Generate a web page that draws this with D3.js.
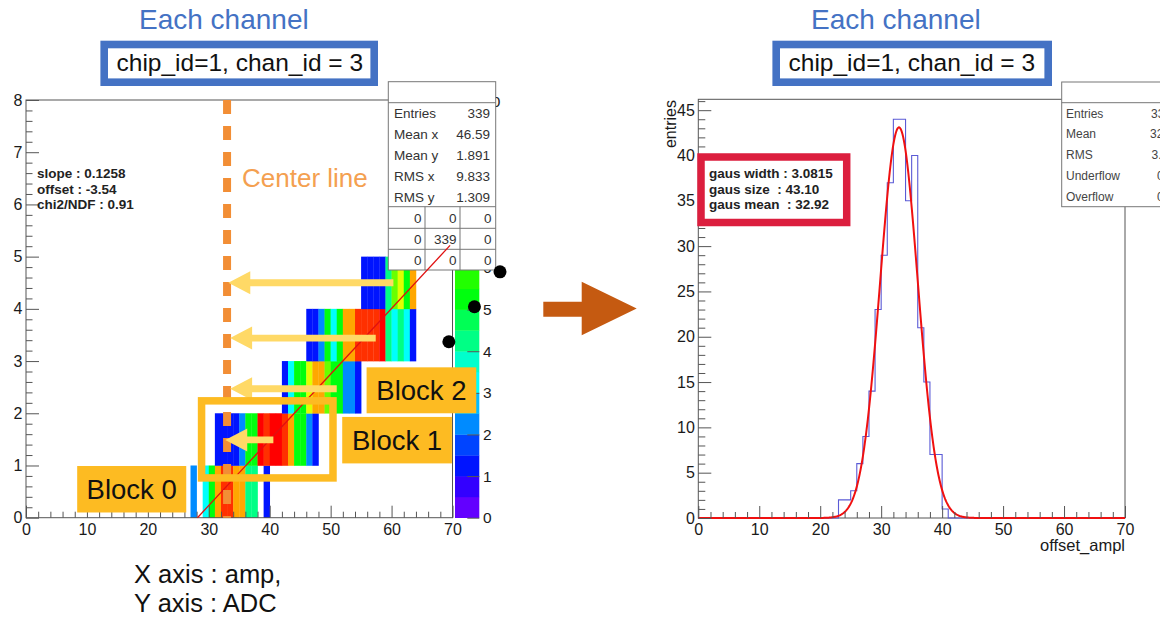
<!DOCTYPE html>
<html>
<head>
<meta charset="utf-8">
<script src="https://cdn.jsdelivr.net/npm/d3@7"></script>
<style>
  html, body { margin: 0; padding: 0; background: #fff; }
  svg { display: block; font-family: "Liberation Sans", Arial, Helvetica, sans-serif; }
  .pre { white-space: pre; }
</style>
</head>
<body>
<svg id="chart" width="1160" height="624"></svg>
<script>
// ---------- ADC vs amp map for chip 1, channel 3 ----------
const adcRows     = [0, 1, 2, 3, 4];          // lower edge of each ADC bin
const ampFirstBin = [27, 31, 42, 46, 55];     // first amp bin filled in each ADC row
const cellCounts = [
  [2, 0, 3, 5, 8, 9, 9, 8, 8, 4, 4, 0, 1],
  [1, 1, 1, 1, 2, 5, 5, 10, 9, 10, 10, 9, 8, 5, 5, 2, 1],
  [1, 3, 5, 5, 7, 8, 8, 6, 5, 5, 2, 2, 1],
  [1, 1, 2, 5, 3, 5, 8, 8, 9, 9, 9, 9, 10, 4, 3, 4, 3, 1],
  [1, 1, 1, 1, 4, 6, 7, 5, 8]
];
const profilePoints = [[69.4, 3.37], [73.6, 4.04], [77.8, 4.71]];
const fitSlope = 0.1258, fitOffset = -3.54, fitChi2 = 0.91, fitRangeMax = 69.6;
const mapXTicks = [0, 10, 20, 30, 40, 50, 60, 70];
const mapYTicks = [0, 1, 2, 3, 4, 5, 6, 7, 8];
const zTicks    = [0, 1, 2, 3, 4, 5, 6, 7, 8, 9, 10];
const mapStatLabels = ["Entries", "Mean x", "Mean y", "RMS x", "RMS y"];
const mapStatValues = ["339", "46.59", "1.891", "9.833", "1.309"];
const mapOverflowGrid = [[0, 0, 0], [0, 339, 0], [0, 0, 0]];
const centerAmp = 33;

// ---------- offset_ampl distribution ----------
const offsetFirstBin = 23;
const offsetCounts = [2, 2, 3, 6, 9, 14, 23, 29, 37, 44, 44, 35, 40, 21, 15, 7, 7, 1];
const gausWidth = 3.0815, gausSize = 43.10, gausMean = 32.92;
const offXTicks = [0, 10, 20, 30, 40, 50, 60, 70];
const offYTicks = [0, 5, 10, 15, 20, 25, 30, 35, 40, 45];
const offStatLabels = ["Entries", "Mean", "RMS", "Underflow", "Overflow"];
const offStatValues = ["339", "32.92", "3.117", "0", "0"];

// ---------- shared style ----------
const FONT = '"Liberation Sans", Arial, Helvetica, sans-serif';
const frameColor = "#555";
const gold = "#FDBB22";
const paleGold = "#FFD966";
const titleBlue = "#4472C4";

const svg = d3.select("#chart");

// rainbow palette: 50 hues from violet to red, 20 contour levels
function levelColor(k) {
  const i = Math.floor((k + 0.99) * 50 / 20);
  const hue = 280 - (i + 1) * 5.6;
  return d3.hsl(hue, 1, 0.5).toString();
}
const zMax = 10;
function countColor(c) {
  const k = Math.min(19, Math.floor(c / (zMax / 20)));
  return levelColor(k);
}

function addAxis(axisFn, scale, values, len, pad, fmt, transform, fs) {
  const g = svg.append("g")
    .attr("transform", transform)
    .call(axisFn(scale).tickValues(values).tickSize(-len).tickPadding(pad).tickFormat(fmt));
  g.attr("font-family", FONT).attr("font-size", fs || 16);
  g.select(".domain").remove();
  g.selectAll(".tick line").attr("stroke", frameColor);
  g.selectAll(".tick text").attr("fill", "#1a1a1a");
  return g;
}
const range = (a, b, s) => d3.range(a, b + s / 2, s);

// ---------- titles ----------
function titleBlock(xTitle, boxX, boxW, textX) {
  svg.append("text").attr("x", xTitle).attr("y", 29.3)
    .attr("font-size", 28).attr("fill", titleBlue).text("Each channel");
  svg.append("rect").attr("x", boxX).attr("y", 44.5).attr("width", boxW).attr("height", 37.7)
    .attr("fill", "#fff").attr("stroke", titleBlue).attr("stroke-width", 7.6);
  svg.append("text").attr("x", textX).attr("y", 71).attr("font-size", 24.5)
    .attr("fill", "#111").text("chip_id=1, chan_id = 3");
}
titleBlock(139, 104.2, 270, 116.5);
titleBlock(811, 776.2, 272, 788.5);

// =================== left panel: 2D map ===================
const x = d3.scaleLinear().domain([0, 70]).range([26, 452.5]);
const y = d3.scaleLinear().domain([0, 8]).range([517.7, 100]);
const z = d3.scaleLinear().domain([0, 10]).range([517.7, 101.5]);

// cells
const cells = [];
adcRows.forEach((row, r) => {
  cellCounts[r].forEach((c, j) => {
    if (c > 0) cells.push({ amp: ampFirstBin[r] + j, adc: row, count: c });
  });
});
svg.append("g").selectAll("rect").data(cells).join("rect")
  .attr("x", d => x(d.amp))
  .attr("y", d => y(d.adc + 1))
  .attr("width", d => x(d.amp + 1) - x(d.amp) + 0.3)
  .attr("height", d => y(d.adc) - y(d.adc + 1) + 0.3)
  .attr("fill", d => countColor(d.count));

// frame and axes
svg.append("rect").attr("x", x(0)).attr("y", y(8)).attr("width", x(70) - x(0)).attr("height", y(0) - y(8))
  .attr("fill", "none").attr("stroke", frameColor);
addAxis(d3.axisBottom, x, range(0, 70, 2).filter(v => v % 10), 6, 0, "", `translate(0,${y(0)})`);
addAxis(d3.axisBottom, x, mapXTicks, 12, 5.5, d3.format("d"), `translate(0,${y(0)})`);
addAxis(d3.axisLeft, y, range(0, 8, 0.2).filter(v => Math.abs(v - Math.round(v)) > 1e-6), 6.5, 0, "", `translate(${x(0)},0)`);
addAxis(d3.axisLeft, y, mapYTicks, 13, 3.5, d3.format("d"), `translate(${x(0)},0)`);

// colour bar (its upper labels sit under the statistics box, so they are left blank)
const zBands = d3.range(20);
svg.append("g").selectAll("rect").data(zBands).join("rect")
  .attr("x", 455).attr("width", 24.3)
  .attr("y", k => z((k + 1) * zMax / 20))
  .attr("height", k => z(k * zMax / 20) - z((k + 1) * zMax / 20) + 0.3)
  .attr("fill", k => levelColor(k));
addAxis(d3.axisRight, z, zTicks, 12, 3.8, v => (v >= 7 && v <= 9) ? "" : String(v), `translate(479.3,0)`, 15.5);

// statistics box
const sb = svg.append("g");
sb.append("rect").attr("x", 388.3).attr("y", 81.7).attr("width", 107.4).attr("height", 188.3)
  .attr("fill", "#fff").attr("stroke", "#777");
[102.7, 206.7, 228.3, 249.3].forEach(yy =>
  sb.append("line").attr("x1", 388.3).attr("x2", 495.7).attr("y1", yy).attr("y2", yy).attr("stroke", "#777"));
[425, 460].forEach(xx =>
  sb.append("line").attr("x1", xx).attr("x2", xx).attr("y1", 206.7).attr("y2", 270).attr("stroke", "#777"));
const statRowY = [113.3, 134, 154.5, 176, 196.5];
mapStatLabels.forEach((lab, i) => {
  sb.append("text").attr("x", 394).attr("y", statRowY[i] + 5).attr("font-size", 13.5).attr("fill", "#333").text(lab);
  sb.append("text").attr("x", 490).attr("y", statRowY[i] + 5).attr("font-size", 13.5).attr("fill", "#333")
    .attr("text-anchor", "end").text(mapStatValues[i]);
});
const gridX = [421.5, 456.5, 491.5], gridY = [217.5, 238.5, 259.5];
mapOverflowGrid.forEach((row, r) => row.forEach((v, c) => {
  sb.append("text").attr("x", gridX[c]).attr("y", gridY[r] + 5).attr("font-size", 13.5)
    .attr("fill", "#333").attr("text-anchor", "end").text(v);
}));

// linear fit
const fitLine = d3.line().x(d => x(d[0])).y(d => y(d[1]));
const fitStart = -fitOffset / fitSlope;
svg.append("path")
  .datum([fitStart, fitRangeMax].map(a => [a, fitSlope * a + fitOffset]))
  .attr("d", fitLine).attr("fill", "none").attr("stroke", "#E01010").attr("stroke-width", 1.3);

const fitText = [`slope : ${fitSlope}`, `offset : ${fitOffset}`, `chi2/NDF : ${fitChi2}`];
svg.append("g").selectAll("text").data(fitText).join("text")
  .attr("x", 37).attr("y", (d, i) => 178 + i * 15.6)
  .attr("font-size", 13.5).attr("font-weight", "bold").attr("fill", "#222").text(d => d);

// profile points
svg.append("g").selectAll("circle").data(profilePoints).join("circle")
  .attr("cx", d => x(d[0])).attr("cy", d => y(d[1])).attr("r", 6.5).attr("fill", "#000");

// center line
svg.append("line").attr("x1", x(centerAmp)).attr("x2", x(centerAmp)).attr("y1", y(8)).attr("y2", y(0))
  .attr("stroke", "#F28E35").attr("stroke-width", 8).attr("stroke-dasharray", "14,12");
svg.append("text").attr("x", 242).attr("y", 187).attr("font-size", 26).attr("fill", "#F4A050").text("Center line");

// shift arrows towards the center line
const shiftArrows = [
  { adc: 4.5,  from: 60.3, to: 33.2 },
  { adc: 3.44, from: 57.4, to: 33.5 },
  { adc: 2.47, from: 51.0, to: 33.5 },
  { adc: 1.49, from: 40.6, to: 32.7 }
];
svg.append("g").selectAll("path").data(shiftArrows).join("path")
  .attr("d", d => {
    const tx = x(d.to), fx = x(d.from), cy = y(d.adc), hl = 22, hh = 11.5, sh = 3.4;
    return `M${tx},${cy} L${tx + hl},${cy - hh} L${tx + hl},${cy - sh} L${fx},${cy - sh}` +
           ` L${fx},${cy + sh} L${tx + hl},${cy + sh} L${tx + hl},${cy + hh} Z`;
  })
  .attr("fill", paleGold);

// block outline around the first ADC step
const blockFrame = { a0: 28.2, a1: 51.0, d0: 0.69, d1: 2.31 };
const bw = 7.5;
svg.append("rect")
  .attr("x", x(blockFrame.a0) + bw / 2).attr("y", y(blockFrame.d1) + bw / 2)
  .attr("width", x(blockFrame.a1) - x(blockFrame.a0) - bw)
  .attr("height", y(blockFrame.d0) - y(blockFrame.d1) - bw)
  .attr("fill", "none").attr("stroke", gold).attr("stroke-width", bw);

// block labels
const blockLabels = [
  { text: "Block 0", a0: 8.4,  a1: 26.3, d0: 0.1,  d1: 0.99 },
  { text: "Block 1", a0: 51.9, a1: 69.9, d0: 1.04, d1: 1.93 },
  { text: "Block 2", a0: 55.9, a1: 73.9, d0: 2.0,  d1: 2.88 }
];
const bl = svg.append("g").selectAll("g").data(blockLabels).join("g");
bl.append("rect")
  .attr("x", d => x(d.a0)).attr("y", d => y(d.d1))
  .attr("width", d => x(d.a1) - x(d.a0)).attr("height", d => y(d.d0) - y(d.d1))
  .attr("fill", gold);
bl.append("text")
  .attr("x", d => (x(d.a0) + x(d.a1)) / 2).attr("y", d => (y(d.d0) + y(d.d1)) / 2 + 10)
  .attr("text-anchor", "middle").attr("font-size", 27.5).attr("fill", "#111").text(d => d.text);

// axis description
svg.append("text").attr("x", 134).attr("y", 583.3).attr("font-size", 25.5).attr("fill", "#111").text("X axis : amp,");
svg.append("text").attr("x", 134).attr("y", 611.7).attr("font-size", 25.5).attr("fill", "#111").text("Y axis : ADC");

// big arrow between panels
svg.append("path")
  .attr("d", "M543.3,301.7 L581.7,301.7 L581.7,281.7 L636.7,308.5 L581.7,335.3 L581.7,316.7 L543.3,316.7 Z")
  .attr("fill", "#C55A11");

// =================== right panel: offset histogram ===================
const x2 = d3.scaleLinear().domain([0, 70]).range([698.3, 1125]);
const y2 = d3.scaleLinear().domain([0, 46.2]).range([518, 99.3]);

svg.append("rect").attr("x", x2(0)).attr("y", y2(46.2)).attr("width", x2(70) - x2(0)).attr("height", y2(0) - y2(46.2))
  .attr("fill", "none").attr("stroke", frameColor);

const bins = d3.range(70).map(i => {
  const j = i - offsetFirstBin;
  return [i, j >= 0 && j < offsetCounts.length ? offsetCounts[j] : 0];
});
bins.push([70, 0]);
svg.append("path").datum(bins)
  .attr("d", d3.line().x(d => x2(d[0])).y(d => y2(d[1])).curve(d3.curveStepAfter))
  .attr("fill", "none").attr("stroke", "#5b5bd6").attr("stroke-width", 1.1);

const gaus = d3.range(0, 70.0001, 0.1).map(v => [v, gausSize * Math.exp(-0.5 * Math.pow((v - gausMean) / gausWidth, 2))]);
svg.append("path").datum(gaus)
  .attr("d", d3.line().x(d => x2(d[0])).y(d => y2(d[1])))
  .attr("fill", "none").attr("stroke", "#F01010").attr("stroke-width", 2);

addAxis(d3.axisBottom, x2, range(0, 70, 2).filter(v => v % 10), 6, 0, "", `translate(0,${y2(0)})`);
addAxis(d3.axisBottom, x2, offXTicks, 12, 5.5, d3.format("d"), `translate(0,${y2(0)})`);
addAxis(d3.axisLeft, y2, range(0, 46, 1).filter(v => v % 5), 7, 0, "", `translate(${x2(0)},0)`);
addAxis(d3.axisLeft, y2, offYTicks, 13, 3.5, d3.format("d"), `translate(${x2(0)},0)`);

svg.append("text").attr("transform", "translate(675.5,100) rotate(-90)")
  .attr("text-anchor", "end").attr("font-size", 16).attr("fill", "#1a1a1a").text("entries");
svg.append("text").attr("x", 1125).attr("y", 550.7).attr("text-anchor", "end")
  .attr("font-size", 16.5).attr("fill", "#1a1a1a").text("offset_ampl");

// statistics box (runs past the right edge)
const sb2 = svg.append("g");
sb2.append("rect").attr("x", 1061.7).attr("y", 82).attr("width", 130).attr("height", 124.7)
  .attr("fill", "#fff").attr("stroke", "#777");
sb2.append("line").attr("x1", 1061.7).attr("x2", 1192).attr("y1", 102.7).attr("y2", 102.7).attr("stroke", "#777");
const stat2Y = [113.3, 134, 155, 176, 197];
const stat2X = [1151, 1150, 1151.5, 1157, 1157];
offStatLabels.forEach((lab, i) => {
  sb2.append("text").attr("x", 1066).attr("y", stat2Y[i] + 4.3).attr("font-size", 12).attr("fill", "#444").text(lab);
  sb2.append("text").attr("x", stat2X[i]).attr("y", stat2Y[i] + 4.3).attr("font-size", 12).attr("fill", "#444").text(offStatValues[i]);
});

// gaussian fit summary
svg.append("rect").attr("x", 701).attr("y", 157).attr("width", 145.7).attr("height", 65.5)
  .attr("fill", "#fff").attr("stroke", "#DC1E3E").attr("stroke-width", 7.5);
const gausText = [`gaus width : ${gausWidth}`, `gaus size  : ${gausSize.toFixed(2)}`, `gaus mean  : ${gausMean}`];
svg.append("g").selectAll("text").data(gausText).join("text")
  .attr("class", "pre")
  .attr("x", 709).attr("y", (d, i) => 178.3 + i * 15.5)
  .attr("font-size", 13.5).attr("font-weight", "bold").attr("fill", "#222").text(d => d);
</script>
</body>
</html>
